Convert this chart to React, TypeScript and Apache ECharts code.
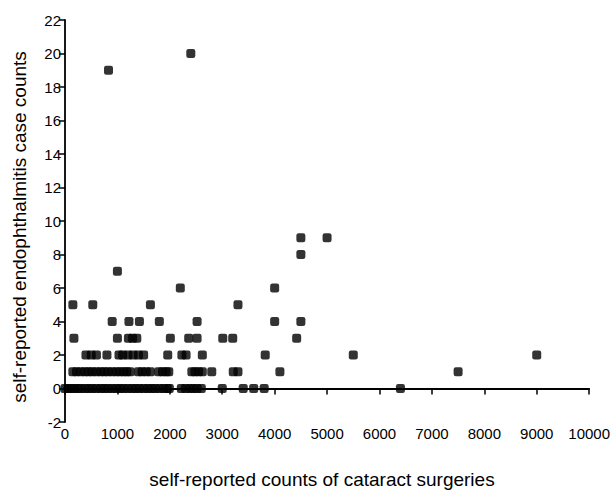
import React, { useEffect, useRef } from "react";
import * as echarts from "echarts";

// x values (surgeries) grouped by y value (case counts)
const casesLevels = [0, 1, 2, 3, 4, 5, 6, 7, 8, 9, 19, 20];
const surgeriesAt0 = [0, 60, 120, 180, 240, 300, 380, 450, 520, 600, 680, 750, 820, 900, 980, 1050, 1120, 1200, 1280, 1350, 1420, 1500, 1580, 1650, 1720, 1800, 1880, 1950, 1990, 2220, 2300, 2380, 2450, 2520, 2600, 3000, 3400, 3600, 3800, 6400];
const surgeriesAt1 = [150, 220, 300, 380, 450, 520, 600, 680, 750, 820, 900, 980, 1050, 1120, 1180, 1240, 1400, 1470, 1550, 1630, 1790, 1860, 1930, 1980, 2420, 2480, 2550, 2620, 2800, 3210, 3300, 4100, 7500];
const surgeriesAt2 = [400, 500, 600, 800, 1030, 1100, 1200, 1300, 1400, 1500, 1960, 2230, 2310, 2620, 3820, 5500, 9000];
const surgeriesAt3 = [170, 1000, 1210, 1290, 1370, 2010, 2360, 2520, 3010, 3200, 4420];
const surgeriesAt4 = [900, 1220, 1420, 1800, 2520, 4000, 4500];
const surgeriesAt5 = [150, 530, 1630, 3300];
const surgeriesAt6 = [2200, 4000];
const surgeriesAt7 = [1000];
const surgeriesAt8 = [4500];
const surgeriesAt9 = [4500, 5000];
const surgeriesAt19 = [830];
const surgeriesAt20 = [2400];

const rows = [surgeriesAt0, surgeriesAt1, surgeriesAt2, surgeriesAt3, surgeriesAt4, surgeriesAt5, surgeriesAt6, surgeriesAt7, surgeriesAt8, surgeriesAt9, surgeriesAt19, surgeriesAt20];

const xTitle = "self-reported counts of cataract surgeries";
const yTitle = "self-reported endophthalmitis case counts";

export default function App() {
  const ref = useRef<HTMLDivElement>(null);
  useEffect(() => {
    if (!ref.current) return;
    const chart = echarts.init(ref.current, undefined, { renderer: "svg" });
    const data: number[][] = [];
    rows.forEach((xs, i) => xs.forEach((x) => data.push([x, casesLevels[i]])));
    const font = "Liberation Sans, Arial, sans-serif";
    chart.setOption({
      animation: false,
      backgroundColor: "#fff",
      grid: { left: 65, right: 22, top: 20, bottom: 68, containLabel: false },
      xAxis: {
        type: "value",
        min: 0,
        max: 10000,
        interval: 1000,
        axisLine: { show: true, lineStyle: { color: "#000", width: 1.8 } },
        axisTick: { show: true, inside: false, length: 6, lineStyle: { color: "#000", width: 1.5 } },
        axisLabel: { color: "#000", fontSize: 15, fontFamily: font, margin: 4, formatter: (v: number) => String(v) },
        splitLine: { show: false },
      },
      yAxis: {
        type: "value",
        min: -2,
        max: 22,
        interval: 2,
        axisLine: { show: true, onZero: false, lineStyle: { color: "#000", width: 1.8 } },
        axisTick: { show: true, inside: false, length: 6, lineStyle: { color: "#000", width: 1.5 } },
        axisLabel: { color: "#000", fontSize: 15, fontFamily: font, margin: 4, formatter: (v: number) => String(v) },
        splitLine: { show: false },
      },
      graphic: [
        {
          type: "text",
          x: 322,
          y: 479,
          style: { text: xTitle, fill: "#000", font: `19px ${font}`, textAlign: "center", textVerticalAlign: "middle" },
        },
        {
          type: "text",
          x: 19,
          y: 227,
          rotation: Math.PI / 2,
          style: { text: yTitle, fill: "#000", font: `19px ${font}`, textAlign: "center", textVerticalAlign: "middle" },
        },
      ],
      series: [
        {
          type: "scatter",
          data,
          symbol: "roundRect",
          symbolSize: 9,
          itemStyle: { color: "#000" },
        },
      ],
    });
    return () => chart.dispose();
  }, []);
  return <div ref={ref} style={{ position: "absolute", left: 0, top: 0, width: 613, height: 490 }} />;
}
